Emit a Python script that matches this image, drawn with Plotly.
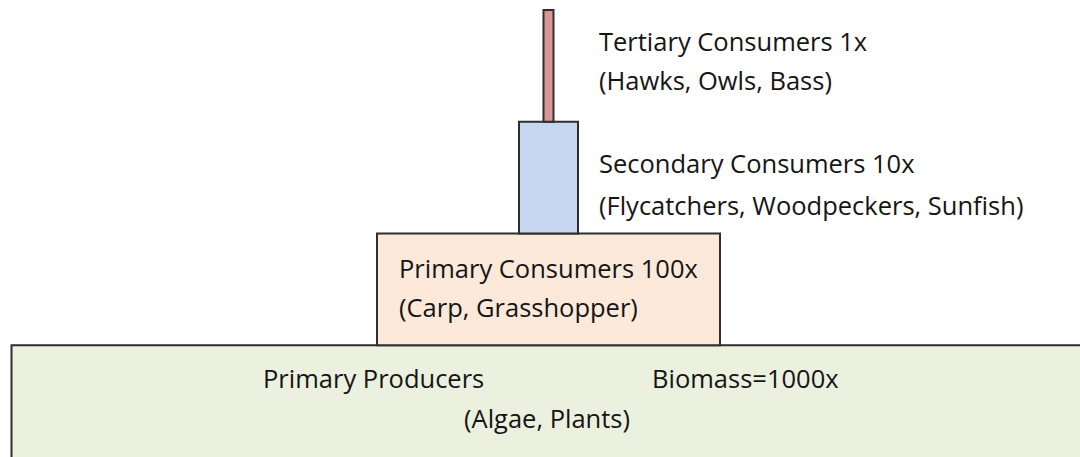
import plotly.graph_objects as go

# ---- data ----
levels = ["Primary Producers", "Primary Consumers", "Secondary Consumers", "Tertiary Consumers"]
biomass = ["1000x", "100x", "10x", "1x"]
examples = ["(Algae, Plants)", "(Carp, Grasshopper)",
            "(Flycatchers, Woodpeckers, Sunfish)", "(Hawks, Owls, Bass)"]
bar_widths = [1074, 343, 59, 10]
bar_base = [-0.1, 1, 2, 3]
bar_height = [1.1, 1, 1, 1]
colors = ["#ebf1de", "#fde9d9", "#c6d6ee", "#d99694"]

W, H = 1080, 457
center = 548.5
font = dict(family="Open Sans", size=25.5, color="#151515")

fig = go.Figure()
for i in range(4):
    fig.add_trace(go.Bar(
        x=[center], y=[bar_height[i]], base=[bar_base[i]], width=[bar_widths[i]],
        marker=dict(color=colors[i], line=dict(color="#2e2e2e", width=2)),
        hoverinfo="skip", showlegend=False))

def py(p):
    return 1 - p / H

def px(p):
    return p / W

labels = [
    (f"{levels[3]} {biomass[3]}", 597, 41),
    (examples[3], 597, 80),
    (f"{levels[2]} {biomass[2]}", 597, 163),
    (examples[2], 597, 205),
    (f"{levels[1]} {biomass[1]}", 397, 268),
    (examples[1], 397, 307),
    (levels[0], 261, 378),
    (f"Biomass={biomass[0]}", 650, 378),
    (examples[0], 462, 418),
]
for t, x0, y0 in labels:
    fig.add_annotation(text=t, x=px(x0), y=py(y0), xref="paper", yref="paper",
                       xanchor="left", yanchor="middle", showarrow=False, font=font)

fig.update_layout(
    width=W, height=H, margin=dict(l=0, r=0, t=0, b=0),
    paper_bgcolor="white", plot_bgcolor="white", barmode="overlay",
    xaxis=dict(range=[0, W], visible=False, fixedrange=True),
    yaxis=dict(range=[0, 4.09], visible=False, fixedrange=True),
)
fig.write_html("out.html", config={"displayModeBar": False},
               post_script="document.body.style.margin='0';document.body.style.overflow='hidden';")
